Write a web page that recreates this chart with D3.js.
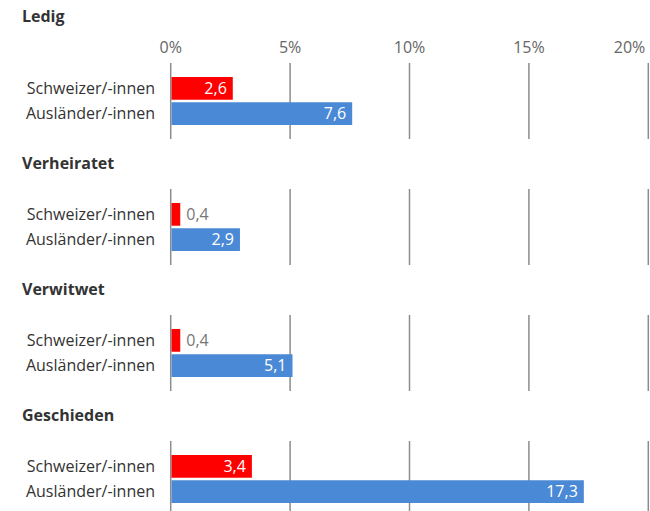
<!DOCTYPE html>
<html><head><meta charset="utf-8">
<script src="https://cdn.jsdelivr.net/npm/d3@7"></script>
<style>
body{margin:0;background:#fff;}
text{font-family:"Open Sans","Noto Sans",sans-serif;}
</style></head>
<body><svg id="c" width="650" height="511"></svg>
<script>
const panels = ["Ledig","Verheiratet","Verwitwet","Geschieden"];
const groups = ["Schweizer/-innen","Ausländer/-innen"];
const swiss = [2.6, 0.4, 0.4, 3.4];
const foreign = [7.6, 2.9, 5.1, 17.3];
const ticks = [0,5,10,15,20];
const colors = ["#ff0000","#4a89d6"];

const svg = d3.select("#c");
const x = d3.scaleLinear().domain([0,20]).range([170.7,648.3]);
const fmt = v => d3.format(".1f")(v).replace(".",",");
const panelStep = 126;

// tick labels (top)
svg.selectAll("text.tick").data(ticks).join("text")
  .attr("class","tick")
  .attr("x",(d,i)=> i===ticks.length-1 ? x(d)-3 : x(d)).attr("y",53)
  .attr("text-anchor",(d,i)=> i===ticks.length-1 ? "end" : "middle")
  .attr("font-size",16).attr("fill","#666")
  .text(d=>d+"%");

panels.forEach((p,i)=>{
  const gridTop = 63 + i*panelStep;
  const g = svg.append("g");
  g.append("text").attr("x",22).attr("y", i===0 ? 22 : gridTop-20)
    .attr("font-size",16).attr("font-weight","bold").attr("fill","#333").text(p);
  g.selectAll("line.grid").data(ticks).join("line")
    .attr("x1",d=>x(d)).attr("x2",d=>x(d))
    .attr("y1",gridTop).attr("y2",gridTop+76)
    .attr("stroke","#8c8c8c").attr("stroke-width",1.5);
  const y = d3.scaleBand().domain(groups).range([gridTop+14,gridTop+62]).paddingInner(0.1);
  const vals = [swiss[i], foreign[i]];
  groups.forEach((gr,j)=>{
    const v = vals[j];
    const yy = y(gr), bh = y.bandwidth();
    g.append("rect").attr("x",x(0)+0.8).attr("y",yy).attr("width",x(v)-x(0)-0.8).attr("height",bh).attr("fill",colors[j]);
    g.append("text").attr("x",155).attr("y",yy+bh/2).attr("dy","0.36em")
      .attr("text-anchor","end").attr("font-size",16).attr("fill","#333").text(gr);
    const w = x(v)-x(0);
    const inside = w > 35;
    g.append("text").attr("x", inside ? x(v)-6 : x(v)+6).attr("y",yy+bh/2).attr("dy","0.36em")
      .attr("text-anchor", inside ? "end" : "start").attr("font-size",16)
      .attr("fill", inside ? "#fff" : "#777").text(fmt(v));
  });
});
</script></body></html>
